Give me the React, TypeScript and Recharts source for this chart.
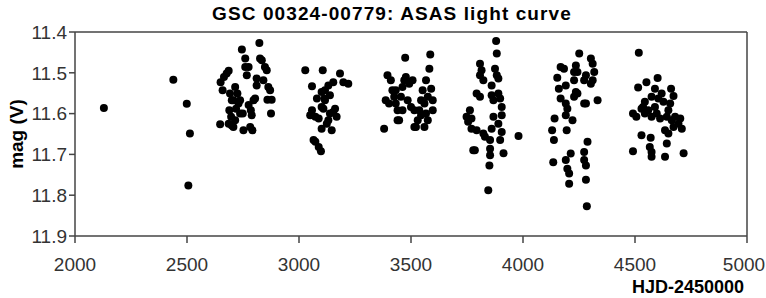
import { ScatterChart, Scatter, XAxis, YAxis, ReferenceLine } from "recharts";

// ASAS V-band photometry: [HJD-2450000, mag]
const early = [
  [2129, 11.586], [2439, 11.517], [2499, 11.576], [2513, 11.649], [2506, 11.776],
];

const season2003 = [
  [2648, 11.626], [2650, 11.523], [2659, 11.543], [2677, 11.502], [2686, 11.495],
  [2665, 11.51], [2692, 11.551], [2707, 11.567], [2689, 11.592], [2697, 11.608],
  [2700, 11.629], [2715, 11.616], [2719, 11.588], [2725, 11.551], [2730, 11.575],
  [2737, 11.567], [2745, 11.443], [2749, 11.6], [2752, 11.641], [2760, 11.465],
  [2760, 11.486], [2767, 11.506], [2775, 11.579], [2782, 11.633], [2785, 11.592],
  [2789, 11.604], [2792, 11.641], [2804, 11.563], [2811, 11.514], [2823, 11.427],
  [2826, 11.465], [2834, 11.469], [2841, 11.518], [2848, 11.486], [2856, 11.494],
  [2863, 11.535], [2871, 11.543], [2878, 11.566], [2859, 11.566], [2875, 11.6],
  [2686, 11.625], [2707, 11.633], [2737, 11.6], [2797, 11.567], [2775, 11.486],
  [2811, 11.531], [2715, 11.535], [2700, 11.567],
];

const season2004 = [
  [3028, 11.494], [3058, 11.533], [3106, 11.494], [3183, 11.502], [3220, 11.527],
  [3198, 11.523], [3153, 11.523], [3131, 11.531], [3116, 11.543], [3138, 11.555],
  [3101, 11.547], [3080, 11.563], [3114, 11.563], [3101, 11.584], [3109, 11.588],
  [3058, 11.592], [3050, 11.604], [3073, 11.608], [3088, 11.612], [3161, 11.588],
  [3153, 11.596], [3168, 11.608], [3138, 11.6], [3124, 11.625], [3101, 11.637],
  [3146, 11.641], [3065, 11.665], [3073, 11.669], [3098, 11.692], [3088, 11.682],
  [3116, 11.567], [3131, 11.616],
];

const season2005 = [
  [3380, 11.637], [3387, 11.567], [3395, 11.506], [3410, 11.518], [3417, 11.543],
  [3425, 11.559], [3432, 11.575], [3440, 11.592], [3447, 11.616], [3455, 11.559],
  [3462, 11.535], [3470, 11.518], [3474, 11.463], [3477, 11.51], [3485, 11.567],
  [3492, 11.527], [3500, 11.584], [3507, 11.518], [3515, 11.592], [3522, 11.633],
  [3530, 11.616], [3537, 11.592], [3545, 11.567], [3552, 11.543], [3560, 11.633],
  [3567, 11.518], [3575, 11.559], [3582, 11.49], [3586, 11.455], [3590, 11.539],
  [3597, 11.592], [3597, 11.567], [3402, 11.575], [3432, 11.543], [3462, 11.592],
  [3440, 11.616], [3567, 11.6], [3545, 11.604], [3515, 11.633], [3560, 11.575],
  [3575, 11.616],
];

const season2006 = [
  [3880, 11.422], [3883, 11.453], [3808, 11.478], [3815, 11.494], [3808, 11.506],
  [3875, 11.49], [3883, 11.506], [3890, 11.514], [3793, 11.551], [3808, 11.559],
  [3860, 11.555], [3890, 11.551], [3868, 11.567], [3898, 11.563], [3905, 11.584],
  [3763, 11.592], [3748, 11.608], [3770, 11.612], [3755, 11.62], [3770, 11.637],
  [3793, 11.641], [3823, 11.649], [3830, 11.657], [3860, 11.637], [3868, 11.608],
  [3905, 11.604], [3890, 11.625], [3905, 11.645], [3853, 11.665], [3898, 11.665],
  [3980, 11.655], [3778, 11.69], [3785, 11.69], [3853, 11.686], [3853, 11.702],
  [3913, 11.697], [3850, 11.727], [3845, 11.788], [3860, 11.531], [3823, 11.518],
];

const season2007 = [
  [4251, 11.453], [4153, 11.512], [4168, 11.486], [4183, 11.49], [4236, 11.482],
  [4228, 11.498], [4243, 11.498], [4303, 11.465], [4311, 11.478], [4318, 11.498],
  [4228, 11.518], [4281, 11.506], [4273, 11.518], [4311, 11.518], [4303, 11.527],
  [4191, 11.531], [4160, 11.539], [4236, 11.547], [4228, 11.559], [4243, 11.551],
  [4168, 11.563], [4191, 11.575], [4333, 11.567], [4281, 11.575], [4273, 11.575],
  [4198, 11.588], [4191, 11.604], [4141, 11.612], [4221, 11.616], [4130, 11.641],
  [4195, 11.641], [4138, 11.665], [4288, 11.669], [4273, 11.694], [4213, 11.698],
  [4135, 11.719], [4191, 11.714], [4273, 11.714], [4281, 11.727], [4198, 11.735],
  [4206, 11.747], [4281, 11.762], [4206, 11.772], [4285, 11.827],
];

const season2008 = [
  [4517, 11.451], [4551, 11.523], [4514, 11.536], [4601, 11.513], [4589, 11.539],
  [4661, 11.539], [4672, 11.557], [4574, 11.559], [4604, 11.563], [4544, 11.571],
  [4536, 11.584], [4529, 11.588], [4627, 11.571], [4657, 11.575], [4649, 11.592],
  [4491, 11.6], [4506, 11.608], [4559, 11.592], [4574, 11.608], [4597, 11.6],
  [4612, 11.612], [4642, 11.608], [4679, 11.608], [4664, 11.616], [4702, 11.612],
  [4694, 11.625], [4709, 11.637], [4672, 11.633], [4634, 11.641], [4649, 11.649],
  [4529, 11.653], [4570, 11.659], [4642, 11.673], [4566, 11.682], [4491, 11.692],
  [4574, 11.694], [4574, 11.706], [4634, 11.706], [4717, 11.697], [4619, 11.551],
  [4589, 11.584], [4544, 11.6],
];

const xTicks = [2000, 2500, 3000, 3500, 4000, 4500, 5000];
const yTicks = [11.4, 11.5, 11.6, 11.7, 11.8, 11.9];

const points = [...early, ...season2003, ...season2004, ...season2005, ...season2006, ...season2007, ...season2008]
  .map(([hjd, mag]) => ({ hjd, mag }));

const axisColor = "#444";
const fontFamily = "Liberation Sans, Arial, sans-serif";
const tickStyle = { fontSize: 19, fill: "#333", fontFamily };

const Dot = (props: any) => <circle cx={props.cx} cy={props.cy} r={4} fill="#000" />;

// x tick: keep the last label inside the picture
const XTick = (props: any) => {
  const { x, y, payload } = props;
  const half = 21;
  const cx = Math.min(x, 765 - half);
  return (
    <text x={cx} y={y + 12} textAnchor="middle" dominantBaseline="hanging" {...tickStyle}>
      {payload.value}
    </text>
  );
};

export default function App() {
  return (
    <div style={{ position: "absolute", left: 0, top: 0, width: 766, height: 298, background: "#fff", fontFamily }}>
      <div style={{ position: "absolute", left: 0, width: 766, top: 3, textAlign: "center", paddingLeft: 18, boxSizing: "border-box", fontSize: 19, fontWeight: "bold", letterSpacing: 1.1, color: "#000" }}>
        GSC 00324-00779: ASAS light curve
      </div>
      <div style={{ position: "absolute", left: 17, top: 134, transform: "translate(-50%, -50%) rotate(-90deg)", whiteSpace: "nowrap", fontSize: 19, fontWeight: "bold", color: "#000" }}>
        mag (V)
      </div>
      <div style={{ position: "absolute", right: 22, top: 278, fontSize: 18, lineHeight: "19px", fontWeight: "bold", color: "#000" }}>
        HJD-2450000
      </div>
      <ScatterChart width={766} height={298} margin={{ top: 32, right: 19, bottom: 32, left: 0 }}>
        <XAxis
          type="number"
          dataKey="hjd"
          domain={[2000, 5000]}
          ticks={xTicks}
          interval={0}
          height={30}
          tick={<XTick />}
          tickSize={7}
          axisLine={{ stroke: axisColor, strokeWidth: 1.5 }}
          tickLine={{ stroke: axisColor, strokeWidth: 1.5 }}
        />
        <YAxis
          type="number"
          dataKey="mag"
          domain={[11.4, 11.9]}
          reversed
          ticks={yTicks}
          interval={0}
          width={75}
          tick={tickStyle}
          tickSize={6}
          tickFormatter={(v: number) => v.toFixed(1)}
          axisLine={{ stroke: axisColor, strokeWidth: 1.5 }}
          tickLine={{ stroke: axisColor, strokeWidth: 1.5 }}
        />
        <ReferenceLine y={11.4} stroke={axisColor} strokeWidth={1.5} />
        <ReferenceLine x={5000} stroke={axisColor} strokeWidth={1.5} />
        <Scatter data={points} shape={Dot} isAnimationActive={false} />
      </ScatterChart>
    </div>
  );
}
